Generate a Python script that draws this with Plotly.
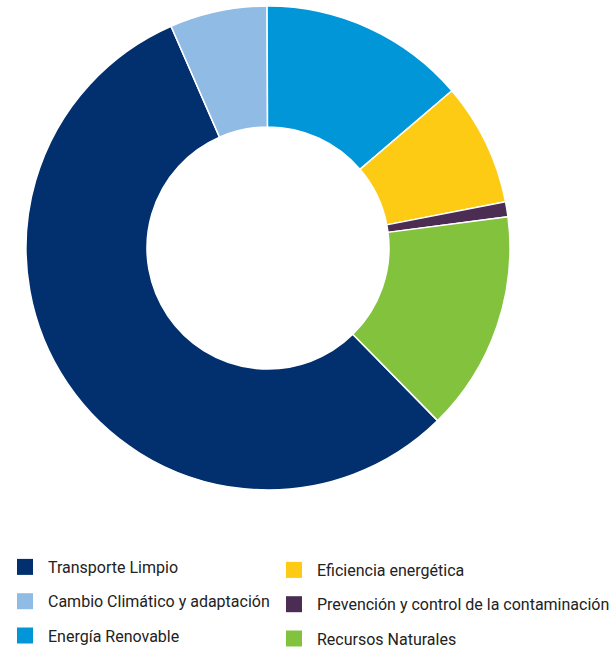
import plotly.graph_objects as go

labels = ["Transporte Limpio", "Cambio Climático y adaptación", "Energía Renovable",
          "Eficiencia energética", "Prevención y control de la contaminación", "Recursos Naturales"]
values = [55.8, 6.5, 13.8, 8.2, 1.0, 14.7]
colors = ["#02306f", "#8fbbe5", "#0096d8", "#fdca14", "#4b2c52", "#82c23c"]

fig = go.Figure()

fig.add_trace(go.Pie(
    labels=labels, values=values, sort=False, direction="clockwise", rotation=135.5,
    hole=0.5, textinfo="none", hoverinfo="label+percent", showlegend=False,
    marker=dict(colors=colors, line=dict(color="white", width=1.5)),
    domain=dict(x=[26 / 614, 510 / 614], y=[1 - 490 / 651, 1 - 6 / 651]),
))

# legend entries, split into two columns
for i, (lab, col) in enumerate(zip(labels, colors)):
    fig.add_trace(go.Scatter(
        x=[None], y=[None], mode="markers", name=lab,
        marker=dict(symbol="square", size=16, color=col),
        legend="legend" if i < 3 else "legend2", legendgroup=lab,
    ))

leg = dict(orientation="v", xanchor="left", yanchor="top", itemwidth=36,
           tracegroupgap=10.5, bgcolor="rgba(0,0,0,0)",
           font=dict(family="Roboto", size=16, color="#222222"))

fig.update_layout(
    width=614, height=651,
    margin=dict(l=0, r=0, t=0, b=0, autoexpand=False),
    paper_bgcolor="white", plot_bgcolor="white",
    xaxis=dict(visible=False), yaxis=dict(visible=False),
    legend=dict(leg, x=2 / 614, y=1 - 550 / 651),
    legend2=dict(leg, x=271 / 614, y=1 - 553 / 651),
)

fig.write_html("out.html", config={"displayModeBar": False},
               post_script="document.body.style.margin='0';")
